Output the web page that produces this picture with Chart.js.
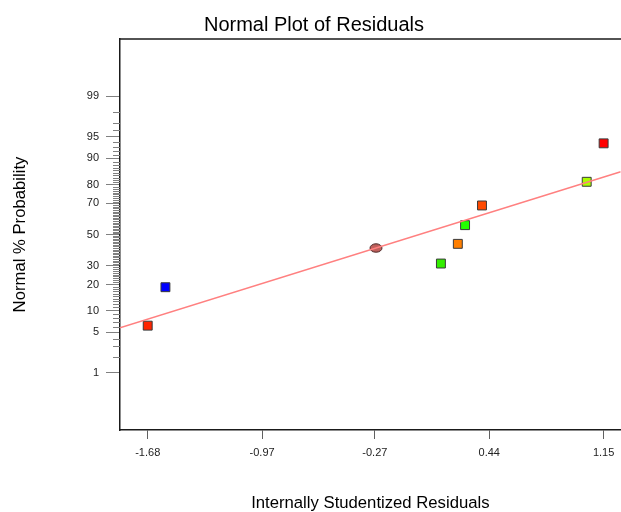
<!DOCTYPE html>
<html>
<head>
<meta charset="utf-8">
<script src="https://cdn.jsdelivr.net/npm/chart.js@4"></script>
<style>
  html, body { margin: 0; padding: 0; background: #fff; overflow: hidden; }
  body { width: 621px; height: 512px; }
  #wrap { width: 628px; height: 512px; }
</style>
</head>
<body>
<div id="wrap"><canvas id="chart"></canvas></div>
<script>
// residuals (x) and their normal % probability (y)
const residuals = [-1.68, -1.57, 0.14, 0.245, 0.29, 0.395, 1.045, 1.15];
const probability = [6.25, 18.75, 31.25, 43.75, 56.25, 68.75, 81.25, 93.75];
const pointColors = ["#ff2400", "#0000ff", "#33ee00", "#ff7f00", "#22ff00", "#ff4a00", "#aaff00", "#ff0000"];

// the round marker sitting on the line
const centerResidual = [-0.263];
const centerProbability = [41];

// fitted line end points
const lineResiduals = [-1.852, 1.256];
const lineProbability = [5.84, 85.45];

const xTicks = [-1.68, -0.97, -0.27, 0.44, 1.15];
const yTicks = [1, 5, 10, 20, 30, 50, 70, 80, 90, 95, 99];

// inverse normal cdf (Acklam)
function probit(p) {
    const a = [-39.69683028665376, 220.9460984245205, -275.9285104469687, 138.3577518672690, -30.66479806614716, 2.506628277459239];
    const b = [-54.47609879822406, 161.5858368580409, -155.6989798598866, 66.80131188771972, -13.28068155288572];
    const c = [-0.007784894002430293, -0.3223964580411365, -2.400758277161838, -2.549732539343734, 4.374664141464968, 2.938163982698783];
    const d = [0.007784695709041462, 0.3224671290700398, 2.445134137142996, 3.754408661907416];
    const pl = 0.02425;
    let q, r;
    if (p < pl) {
        q = Math.sqrt(-2 * Math.log(p));
        return (((((c[0]*q+c[1])*q+c[2])*q+c[3])*q+c[4])*q+c[5]) / ((((d[0]*q+d[1])*q+d[2])*q+d[3])*q+1);
    }
    if (p > 1 - pl) {
        q = Math.sqrt(-2 * Math.log(1 - p));
        return -(((((c[0]*q+c[1])*q+c[2])*q+c[3])*q+c[4])*q+c[5]) / ((((d[0]*q+d[1])*q+d[2])*q+d[3])*q+1);
    }
    q = p - 0.5;
    r = q * q;
    return (((((a[0]*r+a[1])*r+a[2])*r+a[3])*r+a[4])*r+a[5])*q / (((((b[0]*r+b[1])*r+b[2])*r+b[3])*r+b[4])*r+1);
}

const toPoints = (xs, ps) => xs.map((x, i) => ({ x: x, y: probit(ps[i] / 100) }));

// ellipse marker
const ellipse = document.createElement("canvas");
ellipse.width = 14;
ellipse.height = 10;
const ectx = ellipse.getContext("2d");
ectx.beginPath();
ectx.ellipse(7, 5, 6, 4.2, 0, 0, Math.PI * 2);
ectx.fillStyle = "#c0605c";
ectx.fill();
ectx.strokeStyle = "#4a2828";
ectx.lineWidth = 1;
ectx.stroke();

// minor probability ticks + top frame line
const extras = {
    id: "extras",
    afterDraw(chart) {
        const ctx = chart.ctx;
        const ys = chart.scales.y;
        const area = chart.chartArea;
        ctx.save();
        ctx.strokeStyle = "#808080";
        ctx.lineWidth = 1;
        for (let p = 2; p < 99; p++) {
            if (yTicks.includes(p)) continue;
            const py = Math.round(ys.getPixelForValue(probit(p / 100))) + 0.5;
            ctx.beginPath();
            ctx.moveTo(area.left - 7, py);
            ctx.lineTo(area.left, py);
            ctx.stroke();
        }
        ctx.strokeStyle = "#1a1a1a";
        ctx.lineWidth = 1.5;
        ctx.beginPath();
        ctx.moveTo(area.left, area.top);
        ctx.lineTo(area.right + 10, area.top);
        ctx.stroke();
        ctx.restore();
    }
};

new Chart(document.getElementById("chart"), {
    type: "scatter",
    data: {
        datasets: [
            {
                type: "line",
                data: toPoints(lineResiduals, lineProbability),
                borderColor: "#ff8080",
                borderWidth: 1.5,
                pointRadius: 0,
                fill: false
            },
            {
                data: toPoints(centerResidual, centerProbability),
                pointStyle: ellipse
            },
            {
                data: toPoints(residuals, probability),
                pointStyle: "rect",
                pointRadius: 6.3,
                pointBackgroundColor: pointColors,
                pointBorderColor: "#3a3a3a",
                pointBorderWidth: 1
            }
        ]
    },
    options: {
        responsive: true,
        maintainAspectRatio: false,
        animation: false,
        layout: { padding: 0 },
        plugins: {
            legend: { display: false },
            tooltip: { enabled: false },
            title: {
                display: true,
                text: "Normal Plot of Residuals",
                color: "#000",
                font: { family: "Liberation Sans, Arial", size: 20, weight: "normal", lineHeight: 1.2 },
                padding: { top: 13, bottom: 2 }
            }
        },
        scales: {
            x: {
                type: "linear",
                min: lineResiduals[0],
                max: lineResiduals[1],
                afterBuildTicks: s => { s.ticks = xTicks.map(v => ({ value: v })); },
                afterFit: s => { s.height = 82; },
                ticks: {
                    autoSkip: false,
                    maxRotation: 0,
                    padding: 7,
                    color: "#222",
                    font: { family: "Liberation Sans, Arial", size: 11 },
                    callback: (v, i) => xTicks[i].toFixed(2)
                },
                grid: { drawOnChartArea: false, tickLength: 9, tickColor: "#606060", tickWidth: 1 },
                border: { display: true, color: "#1a1a1a", width: 1.5 },
                title: {
                    display: true,
                    text: "Internally Studentized Residuals",
                    color: "#000",
                    font: { family: "Liberation Sans, Arial", size: 16.7, lineHeight: 1 },
                    padding: { top: 0, bottom: 0 }
                }
            },
            y: {
                type: "linear",
                min: -3.29,
                max: 3.29,
                afterBuildTicks: s => { s.ticks = yTicks.map(p => ({ value: probit(p / 100) })); },
                afterFit: s => { s.width = 120; },
                ticks: {
                    autoSkip: false,
                    padding: 7,
                    color: "#222",
                    font: { family: "Liberation Sans, Arial", size: 11 },
                    callback: (v, i) => String(yTicks[i])
                },
                grid: { drawOnChartArea: false, tickLength: 14, tickColor: "#808080", tickWidth: 1 },
                border: { display: true, color: "#1a1a1a", width: 1.5 },
                title: {
                    display: true,
                    text: "Normal % Probability",
                    color: "#000",
                    font: { family: "Liberation Sans, Arial", size: 16.7, lineHeight: 1.2 },
                    padding: { top: 10, bottom: 0 }
                }
            }
        }
    },
    plugins: [extras]
});
</script>
</body>
</html>
